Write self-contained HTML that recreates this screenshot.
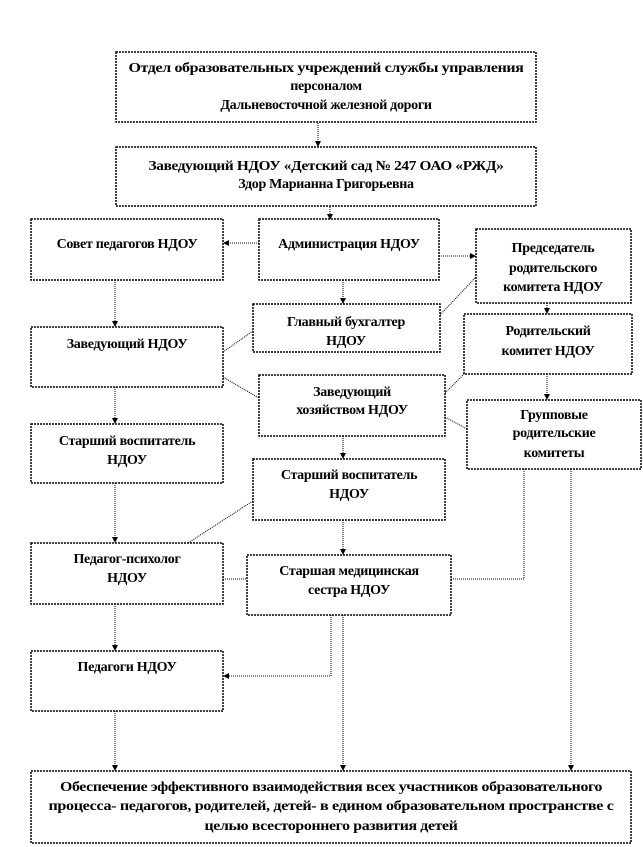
<!DOCTYPE html>
<html><head><meta charset="utf-8"><style>
html,body{margin:0;padding:0;background:#fff;}
svg{display:block;}
text{font-family:"Liberation Serif",serif;font-weight:bold;font-size:14px;fill:#000;text-anchor:middle;letter-spacing:-0.3px;}
.b{fill:#fff;stroke:#000;stroke-width:1.5;stroke-dasharray:2 1;}
.l{stroke:#111;stroke-width:1.1;stroke-dasharray:1 1;fill:none;}
</style></head><body>
<svg width="643" height="847" viewBox="0 0 643 847" xmlns="http://www.w3.org/2000/svg">
<defs><marker id="a" markerWidth="6" markerHeight="6" refX="5" refY="3" orient="auto" markerUnits="userSpaceOnUse"><path d="M0,0 L6,3 L0,6 z" fill="#000"/></marker></defs>

<g class="l" marker-end="url(#a)">
<path d="M318,121 V146"/>
<path d="M330,205 V219"/>
<path d="M259,243 H224"/>
<path d="M439,256 H475"/>
<path d="M343,280 V303"/>
<path d="M115,280 V326"/>
<path d="M547,303 V313"/>
<path d="M547,374 V399"/>
<path d="M115,387 V423"/>
<path d="M343,436 V458"/>
<path d="M115,483 V542"/>
<path d="M343,520 V554"/>
<path d="M115,604 V650"/>
<path d="M331,615 V676 H224"/>
<path d="M343,615 V770"/>
<path d="M115,711 V770"/>
<path d="M571,469 V770"/>
</g>
<g class="l">
<path d="M440,315 L476,277"/>
<path d="M253,331 L223,352"/>
<path d="M223,377 L259,398"/>
<path d="M445,393 L464,374"/>
<path d="M445,417 L467,429"/>
<path d="M253,501 L188,543"/>
<path d="M223,579 H247"/>
<path d="M451,579 H524 V469"/>
</g>

<rect class="b" x="116" y="52" width="420" height="70"/>
<rect class="b" x="116" y="147" width="420" height="59"/>
<rect class="b" x="31" y="219" width="192" height="61"/>
<rect class="b" x="259" y="219" width="180" height="61"/>
<rect class="b" x="476" y="229" width="155" height="74"/>
<rect class="b" x="253" y="304" width="187" height="48"/>
<rect class="b" x="464" y="314" width="168" height="60"/>
<rect class="b" x="31" y="327" width="192" height="60"/>
<rect class="b" x="259" y="375" width="186" height="61"/>
<rect class="b" x="467" y="400" width="174" height="69"/>
<rect class="b" x="31" y="424" width="192" height="59"/>
<rect class="b" x="253" y="459" width="192" height="61"/>
<rect class="b" x="31" y="543" width="192" height="61"/>
<rect class="b" x="247" y="555" width="204" height="60"/>
<rect class="b" x="31" y="651" width="192" height="60"/>
<rect class="b" x="31" y="771" width="600" height="72"/>

<text x="326" y="72" textLength="395" lengthAdjust="spacingAndGlyphs">Отдел образовательных учреждений службы управления</text>
<text x="326" y="90">персоналом</text>
<text x="326" y="109">Дальневосточной железной дороги</text>
<text x="326" y="170" textLength="355" lengthAdjust="spacingAndGlyphs">Заведующий НДОУ «Детский сад № 247 ОАО «РЖД»</text>
<text x="326" y="188">Здор Марианна Григорьевна</text>
<text x="127" y="248">Совет педагогов НДОУ</text>
<text x="349" y="248">Администрация НДОУ</text>
<text x="553" y="252">Председатель</text>
<text x="553" y="272">родительского</text>
<text x="553" y="291">комитета НДОУ</text>
<text x="346" y="326">Главный бухгалтер</text>
<text x="346" y="345">НДОУ</text>
<text x="548" y="335">Родительский</text>
<text x="548" y="355">комитет НДОУ</text>
<text x="127" y="348">Заведующий НДОУ</text>
<text x="352" y="396">Заведующий</text>
<text x="352" y="414">хозяйством НДОУ</text>
<text x="554" y="419">Групповые</text>
<text x="554" y="437">родительские</text>
<text x="554" y="457">комитеты</text>
<text x="127" y="445">Старший воспитатель</text>
<text x="127" y="464">НДОУ</text>
<text x="349" y="479">Старший воспитатель</text>
<text x="349" y="498">НДОУ</text>
<text x="127" y="563">Педагог-психолог</text>
<text x="127" y="582">НДОУ</text>
<text x="349" y="575">Старшая медицинская</text>
<text x="349" y="594">сестра НДОУ</text>
<text x="127" y="671">Педагоги НДОУ</text>
<text x="331" y="791" textLength="542" lengthAdjust="spacingAndGlyphs">Обеспечение эффективного взаимодействия всех участников образовательного</text>
<text x="331" y="810" textLength="565" lengthAdjust="spacingAndGlyphs">процесса- педагогов, родителей, детей- в едином образовательном пространстве с</text>
<text x="331" y="830" textLength="253" lengthAdjust="spacingAndGlyphs">целью всестороннего развития детей</text>
</svg>
</body></html>
